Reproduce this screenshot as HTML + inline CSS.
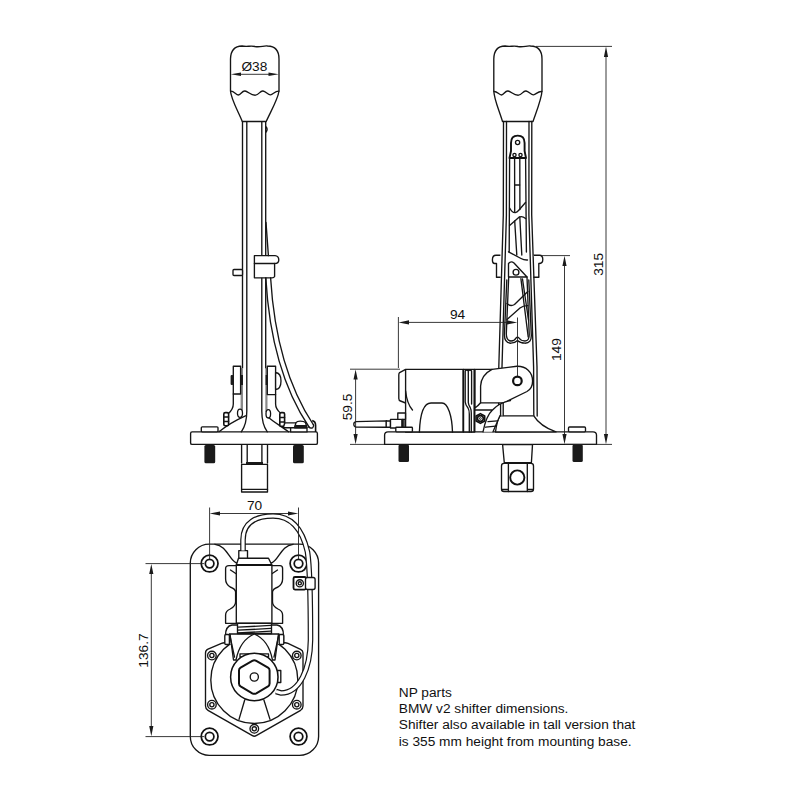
<!DOCTYPE html>
<html><head><meta charset="utf-8">
<style>
html,body{margin:0;padding:0;background:#fff;width:800px;height:800px;overflow:hidden}
svg{display:block}
text{font-family:"Liberation Sans",sans-serif;fill:#111}
.s{fill:none;stroke:#151515;stroke-width:1.35;stroke-linejoin:round;stroke-linecap:round}
.w{fill:#fff;stroke:#151515;stroke-width:1.35;stroke-linejoin:round}
.d{fill:none;stroke:#222;stroke-width:0.9}
.k{fill:#1a1a1a;stroke:none}
.txt{position:absolute;left:398px;top:683px;font-family:"Liberation Sans",sans-serif;font-size:13px;line-height:17px;color:#111}
</style></head>
<body>
<svg width="800" height="800" viewBox="0 0 800 800">
<defs>
<marker id="ar" markerWidth="10" markerHeight="4" refX="10" refY="2" orient="auto" markerUnits="userSpaceOnUse">
<path d="M0,0 L10,2 L0,4 Z" fill="#111"/></marker>
</defs>

<!-- ================= FRONT VIEW ================= -->
<g id="front">
<!-- base plate -->
<rect class="w" x="190.6" y="431.9" width="126.8" height="12.5" rx="1.5"/>
<rect class="k" x="204.4" y="445" width="10.8" height="18.3" rx="1.5"/>
<rect class="k" x="293" y="445" width="10.8" height="18.3" rx="1.5"/>
<path class="s" d="M241.6,445 V463 M247.2,445 V463 M261.9,445 V463 M267.5,445 V463"/>
<rect class="k" x="246" y="462" width="17" height="2.6"/>
<rect class="w" x="241.6" y="464.4" width="25.9" height="27.6"/>
<path class="s" d="M241.6,489.4 H267.5"/>
<rect class="w" x="201.3" y="426.8" width="16.7" height="5" rx="1"/>

<!-- shaft -->
<path class="s" d="M242.5,121.5 V368"/>
<path class="s" d="M246.8,121.5 V410 Q247,424 241.3,431.8"/>
<path class="s" d="M261.8,121.5 V410 Q261.6,424 267.3,431.8"/>
<path class="s" d="M265.7,121.5 V368"/>
<rect x="240.6" y="368" width="2.4" height="44" fill="#8a8a8a"/>
<rect x="265.3" y="368" width="2.2" height="44" fill="#8a8a8a"/>
<rect class="k" x="241" y="375" width="2" height="10"/>
<rect class="k" x="265.6" y="375" width="2" height="10"/>
<path class="s" d="M266.2,127 Q268,129 266.2,132"/>
<!-- gussets -->
<path class="s" d="M219,431.8 C226,426 236,420 245.5,415.8"/>
<path class="s" d="M288.5,431.8 C282,427 274,422 268.5,417.5"/>
<ellipse cx="240" cy="413.2" rx="2.5" ry="4.1" fill="#fff" stroke="#111" stroke-width="1.3"/>
<ellipse cx="268.3" cy="413.8" rx="2.3" ry="4.2" fill="#fff" stroke="#111" stroke-width="1.3"/>
<!-- left bracket -->
<rect class="w" x="233.3" y="366.2" width="7.3" height="27.8"/>
<rect class="k" x="230.6" y="375" width="2.8" height="10" rx="1"/>
<path class="s" d="M233.3,394 V404 Q233.3,409 228.5,413.5"/>
<rect x="223.8" y="412.6" width="4.8" height="13.2" rx="1.5" fill="#fff" stroke="#111" stroke-width="1.6"/>
<path class="s" d="M224,417 H228.6 M224,421.5 H228.6" stroke-width="0.9"/>
<!-- right bracket -->
<rect class="w" x="267.3" y="366.2" width="8.3" height="28.4"/>
<path class="w" d="M275.6,372.5 Q281,373 281,381 Q281,389 275.6,389.5 Z"/>
<path class="s" d="M275.6,394.6 V404 Q275.6,409 280.5,413"/>
<rect x="279.8" y="412.6" width="4.8" height="13.8" rx="1.5" fill="#fff" stroke="#111" stroke-width="1.6"/>
<path class="s" d="M279.8,417.5 H284.6 M279.8,422 H284.6" stroke-width="0.9"/>
<!-- clip & tab -->
<path class="w" d="M254.4,255.6 H275 Q278.8,256 278.8,260 Q278.8,263.5 274.6,263.5 V276.5 Q274,277.8 272,277.8 H254.4 Z"/>
<path class="s" d="M254.4,263.5 H274.6"/>
<rect class="w" x="233" y="269.5" width="9.5" height="6" rx="1"/>
<!-- cable -->
<path class="s" d="M266,222.5 L268.4,255.6"/>
<path class="s" d="M265.8,277.8 C269,335 281.5,386 309,427"/>
<path class="s" d="M270.6,277.8 C274,335 287,385 313.5,425"/>
<path class="s" d="M308.6,426.8 Q310.5,429 312.8,427.6 Q314.2,426.2 313.4,424.5"/>
<path d="M312.2,420.6 Q315.6,421.2 315.6,425.5 V432" fill="none" stroke="#111" stroke-width="1.6"/>
<!-- lower component -->
<path class="w" d="M283.2,427.7 L285,422.8 H296 L294.7,427.7 Z"/>
<rect class="w" x="290.6" y="427.7" width="16.4" height="4.2"/>
<path class="w" d="M294.7,427.7 L296,422.6 Q297,421.1 300.2,421.1 Q304,421.1 305.5,422.6 L307,427.7 Z"/>
<path class="k" d="M295.3,425 H306.3 L306.8,427.5 H294.8 Z"/>
<!-- knob -->
<path class="w" stroke-width="1.4" d="M242.3,121.5 C238,111 231,99 230.5,91 L230.5,59 Q230.8,46.2 242,46 C247,47 251,45.5 255,46.5 C260,47.5 264,45.5 267.5,46 Q279,46.2 279,59 L279,91 C278,99 271,111 266.2,121.5 Z"/>
<path class="s" d="M230.8,91.2 C234,91 236,95 238.5,95 C241,95 242,90.5 245,91 C248,91.5 251,95.5 255.5,95.2 C259,95 260,90.5 263,91 C266,91.5 268,95 270.5,94.8 C273,94.5 275,91 278.8,91.2"/>
<line class="d" x1="240" y1="74.3" x2="269.5" y2="74.3"/>
<path class="k" d="M230.8,74.3 L241,72.6 L241,76 Z M278.7,74.3 L268.5,72.6 L268.5,76 Z"/>
<text x="254.4" y="70.6" font-size="13.7" text-anchor="middle">Ø38</text>
</g>

<!-- ================= SIDE VIEW ================= -->
<g id="side">
<!-- plate -->
<path class="w" d="M384.6,444.4 V435 Q384.6,431.8 388,431.8 H593 Q596.5,431.8 596.5,435 V444.4 Z"/>
<rect class="k" x="398.5" y="444.6" width="10.5" height="17.5" rx="1.5"/>
<rect class="k" x="572.5" y="444.6" width="10.3" height="17.5" rx="1.5"/>
<rect class="w" x="568.5" y="427" width="17" height="4.8" rx="1"/>
<!-- knuckle below -->
<path class="w" d="M502.6,444.6 L504.3,462.7 H531.4 L532.5,444.6 Z"/>
<rect class="w" x="501.5" y="463.4" width="32" height="28.1" rx="2.5"/>
<path class="s" d="M508.4,463.4 V491.5 M527.3,463.4 V491.5 M501.8,489.5 H508.4 M527.3,489.5 H533.2"/>
<circle cx="517.3" cy="477.5" r="7.1" fill="none" stroke="#111" stroke-width="1.9"/>
<!-- knob -->
<path class="w" stroke-width="1.4" d="M502.5,121.5 C499,110 494,99 493.8,91 L493.8,59 Q494,46.2 505,46 C510,47 514,45.5 518,46.5 C523,47.5 527,45.5 530.5,46 Q542,46.2 542,59 L542,91 C541.5,99 537,110 533,121.5 Z"/>
<path class="s" d="M494,91.5 C497,91 499,95 501.5,95 C504,95 505,90.5 508,91 C511,91.5 514,95.5 518.5,95.2 C522,95 523,90.5 526,91 C529,91.5 531,95 533.5,94.8 C536,94.5 538,91 541.8,91.5"/>
<!-- shaft outer lines -->
<path class="s" d="M503.5,121.5 L503.3,215 L498.8,367 L498.6,416"/>
<path class="s" stroke-width="1.6" d="M506.5,121.5 L506.4,215 L502,367 L501.8,416"/>
<path class="s" stroke-width="1.6" d="M529,121.5 L528.9,215 L533.6,367 L533.8,416"/>
<path class="s" d="M531.8,121.5 L531.7,215 L537,367 L537.2,416"/>
<!-- link at top -->
<path d="M509.5,158 L511,151 V143 Q511,135.6 517.7,135.6 Q524.6,135.6 524.6,143 V151 L526,158 Z" fill="#fff" stroke="#111" stroke-width="1.9" stroke-linejoin="round"/>
<circle class="s" cx="517.6" cy="142.5" r="2.1"/>
<path d="M510,158 H525.5" stroke="#111" stroke-width="1.9"/>
<circle class="s" cx="514.5" cy="155" r="1.6"/><circle class="s" cx="520.5" cy="155" r="1.6"/>
<!-- rods & inner frame -->
<path class="s" d="M509.6,158 L509.2,252 M525.6,158 L526.4,252"/>
<path class="s" d="M514.6,158 L514.7,211.5 M519.8,158 L519.9,209.5"/>
<path class="s" d="M515,185 H519.6" stroke-width="1.6"/>
<!-- web 1 -->
<path class="s" d="M509.6,208 Q512,212.8 515.3,212.6 Q517,212.3 519,210 L525.5,202.5"/>
<path class="s" d="M509.6,225.6 L519,217.2 Q522,215.5 525.6,218.5"/>
<path class="s" d="M514.7,221 L516.8,255 M519.8,217 L521.8,255"/>
<!-- web 2 around clip -->
<path class="s" d="M508.5,251.8 L521,258.5 Q524,260.2 527.5,260"/>
<path class="s" d="M508.5,263.5 Q511,260.5 514,263 L527,277 H508.5 Z"/>
<circle class="s" cx="516" cy="272.3" r="2.9"/>
<!-- clip -->
<path class="w" d="M496.5,277.2 V263.5 H494.6 Q492.4,263.5 492.4,260 Q492.4,255.2 496,255.2 H500.4 M533.6,255.2 H539.5 Q542.8,255.2 542.8,259.5 Q542.8,263.5 539,263.5 H538.8 V277.2"/>
<path class="s" d="M496.5,277.2 H500.2 M533.8,277.2 H538.8"/>
<!-- lower frame -->
<path class="s" d="M508.7,277 L506.3,334 Q506.5,341 511,341 Q514.5,341 516,338 Q517.5,336.5 519,338 Q521,341 525,341 Q529.5,341 529.2,334 L527,277"/>
<path class="s" d="M506.8,280 L504.4,335 Q504.6,343.2 511,343.2 Q515,343 517.5,340.5 Q520,343 525,343.2 Q531.6,343.2 531.3,335 L528.8,280"/>
<path class="s" d="M520.9,278.7 L528.2,337 M522.5,279 L528.5,320"/>
<path class="s" d="M507,303.5 Q510.5,307 514.5,304.5 L527.8,291.5"/>
<path class="s" d="M507,319.5 L520,308 Q523,305.5 527.8,305.6"/>

<!-- shaft base flange -->
<path class="w" d="M495.5,432 Q497,420 500,415.8 H533.8 Q540,426 556,431.9 Z"/>
<!-- motor body -->
<path class="w" d="M405.6,369.4 L399.6,372.6 Q398.8,373.4 398.8,375 V398.5 Q398.8,400.5 400.5,401 L405.6,403"/>
<path class="w" d="M405.6,369.4 H463.4 V432 H405.6 Z"/>
<path class="s" d="M405.6,391 Q407,404 412.5,410"/>
<path class="s" d="M419.4,432 C420,416 423,403 431,403 H442 C448,403 452,416 452.5,432"/>
<!-- rings -->
<path class="w" d="M463.4,369.4 H474.7 V432 H463.4 Z"/>
<path class="s" d="M465.2,371 V402 Q465.5,405 468,408 Q469.3,410 469.3,414 V432 M468.3,371 V402.5 Q468.5,405 470.2,407.5 Q471.3,409.5 471.3,413 V432 M471.6,371 V404 M465.2,371 Q466.5,369 468.3,371 Q470,369 471.6,371" stroke-width="1.2"/>
<path d="M474.3,369.4 V432" stroke="#111" stroke-width="1.7"/>
<path d="M463.4,369.4 V432" stroke="#111" stroke-width="1.5"/>
<!-- lever -->
<path class="w" d="M474.7,369.4 H492 L516.9,366.25 C526,366 532.6,372 532.6,381 C532.6,386.5 530.5,389.5 527,391.5 L504,402.8 H480.6 Q478,406 475,408 V369.4 Z"/>
<path class="s" d="M480.6,402.8 V386 C481,379 485,373 492,369.4"/>
<circle cx="517.4" cy="380.9" r="4.3" fill="none" stroke="#111" stroke-width="2.2"/>
<!-- cam -->
<path d="M475,410 H492.5 C497,405 503,402 510.5,400.5 L503,415.6 H500 L493,431.8 H483 C485,422 488,414 492.5,410 Z" fill="#fff"/>
<path class="s" d="M475,410 H492.5 C497,405 503,402 510.5,400.5 M492.5,410 C488,414 485,422 483,431.8 M500,415.6 L493,431.8"/>
<path class="s" d="M500.6,404.5 V415.6 M503.2,403 V415.6"/>
<path class="s" d="M488,421.6 L497.5,420.9 M485.6,427.2 L495.6,426.2"/>
<path d="M480.4,413.6 L484.7,416 V421 L480.4,423.4 L476.1,421 V416 Z" fill="#fff" stroke="#111" stroke-width="1.6" stroke-linejoin="round"/>
<circle cx="480.4" cy="418.5" r="2.9" fill="none" stroke="#111" stroke-width="1.6"/>
<circle cx="480.4" cy="418.5" r="1.2" fill="#111"/>
<circle cx="480.4" cy="418.5" r="0.5" fill="#fff"/>
<!-- left rod assembly -->
<path class="w" d="M356,421.6 L386.5,420.8 V427.2 L356,427 Q353.8,426.6 353.8,424.3 Q353.8,422 356,421.6 Z"/>
<rect class="w" x="386.2" y="421" width="4.3" height="6.2"/>
<rect class="w" x="390.5" y="419.3" width="11.4" height="8.7"/>
<rect class="w" x="397.8" y="413" width="7.7" height="6.3"/>
<path class="s" d="M402.5,419.3 V428 M404,419.3 V428"/>
<rect class="w" x="395.8" y="427.2" width="16.6" height="4.6" rx="0.8"/>
</g>

<!-- ================= TOP VIEW ================= -->
<g id="top">
<rect class="w" x="190.3" y="544.1" width="128.3" height="211.3" rx="19"/>
<g fill="none" stroke="#111" stroke-width="1.75">
<circle cx="209.6" cy="563.6" r="8.4"/><circle cx="209.6" cy="563.6" r="4.3"/>
<circle cx="298.5" cy="563.6" r="8.4"/><circle cx="298.5" cy="563.6" r="4.3"/>
<circle cx="209.6" cy="736.6" r="8.4"/><circle cx="209.6" cy="736.6" r="4.3"/>
<circle cx="298.5" cy="736.6" r="8.4"/><circle cx="298.5" cy="736.6" r="4.3"/>
</g>
<!-- inner curves under plate top -->
<path class="s" d="M215,544.3 C227,545.5 229,560 236.5,563 M293,544.3 C281,545.5 279,560 271.5,563"/>
<!-- motor mount bracket -->
<path class="w" d="M229,565.6 H280 Q282.6,565.6 282.6,568.6 V579 Q282.6,584 278,587 Q272.5,589 272.5,592 V602 Q272.5,606 278,609 Q282.6,611 282.6,615 V623.3 H225.6 V615 Q225.6,611 230.2,609 Q235.6,606 235.6,602 V592 Q235.6,589 230.2,587 Q225.6,584 225.6,579 V568.6 Q225.6,565.6 229,565.6 Z"/>
<path class="s" d="M230.5,570 L236.5,574 M277.5,570 L271.5,574"/>
<!-- motor -->
<path class="w" d="M236.3,565 L238.5,558.2 H268.5 L271.8,565 Z"/>
<rect class="w" x="236.3" y="565" width="35.6" height="58.2"/>
<path d="M236.3,565 H271.8" stroke="#111" stroke-width="1.8"/>
<rect class="w" x="238.8" y="550.6" width="8.7" height="7.6"/>
<!-- lower mechanism -->
<path class="w" d="M205.5,653 Q205.5,650.3 208,649.2 L221.5,643.3 Q222.8,642.7 224.5,642.7 H285 Q286.5,642.7 288,643.4 L300.5,649.3 Q303,650.6 303,653 V706 Q303,708.8 300.6,710.3 L256.2,735.7 Q254.3,736.8 252.4,735.7 L208,710.3 Q205.5,708.8 205.5,706 Z"/>
<circle class="w" cx="254.3" cy="680" r="43.5"/>
<path class="s" d="M244.7,700 L239,719.4 M263.9,700 L270,719.4"/>
<!-- side plates & nuts -->
<path class="w" d="M225.5,644 V635.5 Q225.5,626 232,625 H277 Q283.5,626 283.5,635.5 V644"/>
<path class="w" d="M230,634 H278.5 L275,660 H233.5 Z"/>
<path class="w" d="M236,660 Q240,640 254.3,634 Q268.6,640 272.5,660"/>
<path class="s" d="M229.5,634 L234.5,657 M279,634 L274,657"/>
<rect class="w" x="224.8" y="634.5" width="4.6" height="10" rx="1.2"/>
<rect class="w" x="279.2" y="634.5" width="4.6" height="10" rx="1.2"/>
<!-- spring -->
<rect class="w" x="237.5" y="623.3" width="34" height="10.2"/>
<path class="s" d="M238,627.2 L270.8,625.4 M238,630.2 L270.8,628.4 M238,633 L270.8,631.2"/>
<!-- ring & hex -->
<rect class="w" x="240" y="653.8" width="28.5" height="3"/>
<path class="w" d="M277.5,670.5 H280.8 V682.5 H277.5 Z"/>
<circle cx="254.3" cy="677" r="23.7" fill="#fff" stroke="#111" stroke-width="1.5"/>
<path d="M252.3,660.9 Q254.3,659.8 256.3,660.9 L268,667.6 Q269.6,668.6 269.6,670.5 V683.5 Q269.6,685.4 268,686.4 L256.3,693.3 Q254.3,694.4 252.3,693.3 L240.6,686.4 Q239,685.4 239,683.5 V670.5 Q239,668.6 240.6,667.6 Z" fill="#fff" stroke="#111" stroke-width="2" stroke-linejoin="round"/>
<circle class="s" stroke-width="1.45" cx="254.3" cy="677" r="4.1"/>
<!-- flange bolts -->
<circle class="s" stroke-width="1.45" cx="211.9" cy="655.5" r="4.3"/><circle class="s" stroke-width="1.45" cx="211.9" cy="655.5" r="2.1"/>
<circle class="s" stroke-width="1.45" cx="296.8" cy="655.5" r="4.3"/><circle class="s" stroke-width="1.45" cx="296.8" cy="655.5" r="2.1"/>
<circle class="s" stroke-width="1.45" cx="211.9" cy="704.7" r="4.3"/><circle class="s" stroke-width="1.45" cx="211.9" cy="704.7" r="2.1"/>
<circle class="s" stroke-width="1.45" cx="296.8" cy="704.7" r="4.3"/><circle class="s" stroke-width="1.45" cx="296.8" cy="704.7" r="2.1"/>
<circle class="s" stroke-width="1.45" cx="254.3" cy="728.8" r="4.3"/><circle class="s" stroke-width="1.45" cx="254.3" cy="728.8" r="2.1"/>
<!-- cable -->
<path d="M243,550.6 V540 C243,522 257,516 273,516 C293,516 303,532 307.5,552 C310,568 310.5,590 310.5,640 C310.2,668 300,693 281,693 L276,691.5" fill="none" stroke="#151515" stroke-width="5.6" stroke-linecap="butt"/>
<path d="M243,550.6 V540 C243,522 257,516 273,516 C293,516 303,532 307.5,552 C310,568 310.5,590 310.5,640 C310.2,668 300,693 281,693 L276,691.5" fill="none" stroke="#fff" stroke-width="3.2" stroke-linecap="butt"/>
<!-- cable clip -->
<rect x="293.5" y="577" width="12.5" height="12.6" rx="1.5" fill="#fff" stroke="#111" stroke-width="1.8"/>
<rect class="w" x="305.5" y="577.5" width="9.6" height="12" rx="2"/>
<circle class="s" stroke-width="1.45" cx="299.8" cy="583.3" r="3.6"/><circle class="s" stroke-width="1.45" cx="299.8" cy="583.3" r="1.6"/>
</g>

<!-- ================= DIMENSIONS ================= -->
<g id="dims">
<!-- 70 -->
<path class="d" d="M209.6,507.5 V559.3 M298.5,507.5 V559.3 M219,513.5 H289"/>
<path class="k" d="M209.6,513.5 L220,511.4 L220,515.6 Z M298.3,513.5 L288,511.4 L288,515.6 Z"/>
<text x="254.5" y="509.6" font-size="13.7" text-anchor="middle">70</text>
<!-- 136.7 -->
<path class="d" d="M145.5,563.6 H204 M145.5,736.6 H204 M151.3,573 V727"/>
<path class="k" d="M151.3,564 L149.2,574 L153.4,574 Z M151.3,736.2 L149.2,726 L153.4,726 Z"/>
<text transform="translate(147.8,650.5) rotate(-90)" font-size="13.7" text-anchor="middle">136.7</text>
<!-- 315 -->
<path class="d" d="M536,46.4 H612 M565,444.4 H612 M606,56 V435"/>
<path class="k" d="M606,46.6 L603.9,57 L608.1,57 Z M606,444.2 L603.9,434 L608.1,434 Z"/>
<text transform="translate(602.6,264.4) rotate(-90)" font-size="13.7" text-anchor="middle">315</text>
<!-- 149 -->
<path class="d" d="M541,255.6 H570 M564.5,265 V435"/>
<path class="k" d="M564.5,255.8 L562.4,266 L566.6,266 Z M564.5,444.2 L562.4,434 L566.6,434 Z"/>
<text transform="translate(561,349.6) rotate(-90)" font-size="13.7" text-anchor="middle">149</text>
<!-- 94 -->
<path class="d" d="M398.4,317 V368 M517.5,317.5 V376 M408,322.4 H508"/>
<path class="k" d="M398.6,322.4 L409,320.3 L409,324.5 Z M517.3,322.4 L507,320.3 L507,324.5 Z"/>
<text x="457.5" y="319.2" font-size="13.7" text-anchor="middle">94</text>
<!-- 59.5 -->
<path class="d" d="M350,369.2 H400 M350,444.4 H384 M355.6,379 V434"/>
<path class="k" d="M355.6,369.4 L353.5,379.5 L357.7,379.5 Z M355.6,444.2 L353.5,434 L357.7,434 Z"/>
<text transform="translate(352,407) rotate(-90)" font-size="13.7" text-anchor="middle">59.5</text>
</g>
<g font-size="13.7">
<text x="398.8" y="696.5">NP parts</text>
<text x="398.8" y="713">BMW v2 shifter dimensions.</text>
<text x="398.8" y="729.4">Shifter also available in tall version that</text>
<text x="398.8" y="745.8">is 355 mm height from mounting base.</text>
</g>
</svg>

</body></html>
